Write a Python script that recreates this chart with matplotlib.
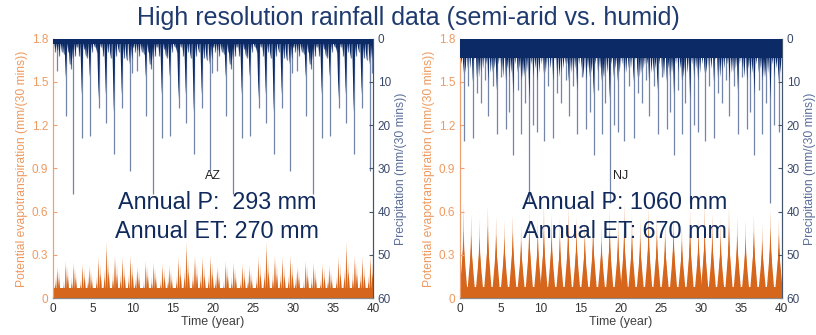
import numpy as np
import matplotlib
matplotlib.use("Agg")
import matplotlib.pyplot as plt

plt.rcParams["font.family"] = ["Liberation Sans", "DejaVu Sans"]

# both records are a 10-year series shown 4 times over, so only one block is listed
# --- AZ (semi-arid) ---
az_rain_t = [0.05, 0.3, 0.55, 0.8, 1.1, 1.35, 1.6, 1.9, 2.1, 2.3, 2.5, 2.8, 3.0, 3.3, 3.6, 3.9, 4.1, 4.3,
             4.6, 4.9, 5.2, 5.45, 5.7, 6.0, 6.3, 6.6, 6.9, 7.2, 7.6, 7.9, 8.2, 8.6, 8.9, 9.2, 9.6, 9.9]
az_rain_max = [2, 3, 7.5, 4, 3, 3.5, 18, 3, 6, 7, 36, 4, 2, 4, 23, 2.5, 4, 4.5,
               22.5, 3, 2, 3, 16, 2, 4, 19.5, 3, 4.5, 26.7, 4, 3, 16, 4.5, 5, 30.6, 8]
az_rain_core = [2, 3, 3, 4, 3, 3.5, 9, 3, 6, 7, 5, 4, 2, 4, 13, 2.5, 4, 4.5,
                9, 3, 2, 3, 14, 2, 4, 13, 3, 4.5, 17, 4, 3, 13, 4.5, 5, 6, 5]
az_rain_floor = 1.2

az_pet_t = [0.54, 1.6, 2.6, 3.7, 4.6, 5.7, 6.7, 7.75, 8.7, 9.7]
az_pet_peak = [0.22, 0.26, 0.25, 0.24, 0.23, 0.29, 0.39, 0.30, 0.29, 0.30]
az_pet_t2 = [0.3, 0.75, 1.35, 1.85, 2.35, 2.85, 3.45, 3.95, 4.4, 4.85,
             5.45, 5.95, 6.45, 6.95, 7.5, 8.0, 8.45, 8.95, 9.45, 9.95]
az_pet_2 = [0.14, 0.20, 0.12, 0.22, 0.15, 0.20, 0.13, 0.21, 0.16, 0.18,
            0.15, 0.24, 0.20, 0.26, 0.18, 0.24, 0.17, 0.22, 0.16, 0.24]
az_pet_floor = 0.07

# --- NJ (humid) ---
nj_rain_t = [0.41, 0.95, 1.57, 2.07, 2.6, 3.1, 3.5, 4.05, 4.55, 5.1, 5.7, 6.1, 6.6, 7.15, 7.6, 8.0, 8.6, 9.1, 9.6]
nj_rain_max = [23.7, 11, 22.9, 12.5, 15, 9.5, 18, 11, 22, 9, 21, 17, 27, 12, 22, 15, 38, 20, 21.5]
nj_rain_core = [8, 7, 10, 9, 8, 6, 10, 8, 12, 7, 10, 9, 13, 8, 10, 9, 14, 9, 10]
nj_rain_t2 = [0.15, 0.65, 1.25, 1.8, 2.35, 2.85, 3.3, 3.8, 4.3, 4.8,
              5.35, 5.9, 6.35, 6.85, 7.4, 7.8, 8.3, 8.85, 9.35, 9.85]
nj_rain_2 = [6, 8, 7, 5, 9, 7, 6, 8, 7, 6, 9, 7, 8, 6, 7, 9, 8, 6, 7, 8]
nj_rain_floor = 4.5

nj_pet_t = [0.41, 1.37, 2.4, 3.44, 4.47, 5.5, 6.54, 7.58, 8.6, 9.65]
nj_pet_peak = [0.66, 0.59, 0.55, 0.64, 0.57, 0.54, 0.58, 0.51, 0.62, 0.55]
nj_pet_core = [0.47, 0.44, 0.42, 0.50, 0.44, 0.42, 0.46, 0.40, 0.48, 0.44]
nj_pet_hump = [0.38, 0.36, 0.34, 0.39, 0.36, 0.34, 0.37, 0.33, 0.38, 0.35]
nj_pet_floor = 0.08

REPEATS = 4
ORANGE = "#D5661C"
ORANGE_LIGHT = "#EDB48F"
NAVY = "#0B2A66"
NAVY_LIGHT = "#7485AA"


def tile(t):
    return np.concatenate([np.asarray(t) + 10 * k for k in range(REPEATS)])


def rep(v):
    return np.tile(np.asarray(v, dtype=float), REPEATS)


def spikes(ax, t, h, w, base=0.0, **kw):
    for ti, hi in zip(t, h):
        ax.fill([ti - w, ti, ti + w], [base, hi, base], lw=0, **kw)


def panel(rect, pet_t, pet_peak, pet_floor, rain_t, rain_max, rain_core, rain_floor,
          label, p_text, et_text, pet_core=None, pet_hump=None, pet_t2=None, pet_2=None,
          rain_t2=None, rain_2=None):
    ax = fig.add_axes(rect)
    ax.set_xlim(0, 40)
    ax.set_ylim(0, 1.8)

    # PET (orange, left axis)
    if pet_hump is not None:
        spikes(ax, tile(pet_t), rep(pet_peak), 0.18, color=ORANGE_LIGHT)
        spikes(ax, tile(pet_t), rep(pet_hump), 0.55, color=ORANGE)
        spikes(ax, tile(pet_t), rep(pet_core), 0.3, color=ORANGE)
    else:
        spikes(ax, tile(pet_t), rep(pet_peak), 0.2, color=ORANGE_LIGHT)
        spikes(ax, tile(pet_t), rep(pet_peak) * 0.85, 0.15, color=ORANGE)
    if pet_t2 is not None:
        spikes(ax, tile(pet_t2), rep(pet_2), 0.15, color=ORANGE_LIGHT)
        spikes(ax, tile(pet_t2), rep(pet_2) * 0.7, 0.25, color=ORANGE)
    ax.fill_between([0, 40], 0, pet_floor, color=ORANGE, lw=0, zorder=3)

    # rainfall (navy, right axis, inverted)
    ax2 = ax.twinx()
    ax2.set_ylim(60, 0)
    ax2.vlines(tile(rain_t), 0, rep(rain_max), color=NAVY_LIGHT, lw=0.9, zorder=0.5)
    ax2.fill_between([0, 40], 0, rain_floor, color=NAVY, lw=0, zorder=3)
    spikes(ax2, tile(rain_t), rep(rain_core), 0.2, color=NAVY, zorder=2)
    if rain_t2 is not None:
        spikes(ax2, tile(rain_t2), rep(rain_2), 0.25, color=NAVY, zorder=2)

    ax.set_yticks(np.arange(0, 1.81, 0.3))
    ax.set_yticklabels(["0", "0.3", "0.6", "0.9", "1.2", "1.5", "1.8"])
    ax.set_xticks(range(0, 41, 5))
    ax2.set_yticks(range(0, 61, 10))
    ax.tick_params(axis="y", direction="in", colors="#F0A070", labelcolor="#EE9A60", labelsize=8.5, length=3)
    ax.tick_params(axis="x", direction="in", colors="#555555", labelcolor="#333333", labelsize=8.5, length=2)
    ax2.tick_params(axis="y", direction="in", colors="#44546A", labelcolor="#3B4A6B", labelsize=8.5, length=3)
    for a in (ax, ax2):
        a.spines["left"].set_color("#F0A070")
        a.spines["right"].set_color("#44546A")
        a.spines["top"].set_visible(False)
        a.spines["bottom"].set_color("#888888")
    ax.set_xlabel("Time (year)", fontsize=9, color="#404040", labelpad=1)
    ax.set_ylabel("Potential evapotranspiration (mm/(30 mins))", fontsize=8.7, color="#EE9A60", labelpad=3)
    ax2.set_ylabel("Precipitation (mm/(30 mins))", fontsize=8.7, color="#5B6E99", labelpad=3)

    ax2.text(20, 0.85, label, transform=ax.transData, ha="center", va="center", fontsize=9,
             color="#222222", zorder=5)
    ax2.text(20.5, 0.66, p_text, transform=ax.transData, ha="center", va="center", fontsize=16.8,
             color="#102A5C", zorder=5)
    ax2.text(20.5, 0.465, et_text, transform=ax.transData, ha="center", va="center", fontsize=16.8,
             color="#102A5C", zorder=5)
    return ax


fig = plt.figure(figsize=(8.16, 3.35), dpi=100)

panel([0.065, 0.110, 0.392, 0.775], az_pet_t, az_pet_peak, az_pet_floor,
      az_rain_t, az_rain_max, az_rain_core, az_rain_floor,
      "AZ", "Annual P:  293 mm", "Annual ET: 270 mm",
      pet_t2=az_pet_t2, pet_2=az_pet_2)

panel([0.564, 0.110, 0.394, 0.775], nj_pet_t, nj_pet_peak, nj_pet_floor,
      nj_rain_t, nj_rain_max, nj_rain_core, nj_rain_floor,
      "NJ", "Annual P: 1060 mm", "Annual ET: 670 mm",
      pet_core=nj_pet_core, pet_hump=nj_pet_hump,
      rain_t2=nj_rain_t2, rain_2=nj_rain_2)

fig.text(0.5, 0.945, "High resolution rainfall data (semi-arid vs. humid)", ha="center", va="center",
         fontsize=18, color="#1F3A6E")

fig.savefig("out.png", dpi=100)
